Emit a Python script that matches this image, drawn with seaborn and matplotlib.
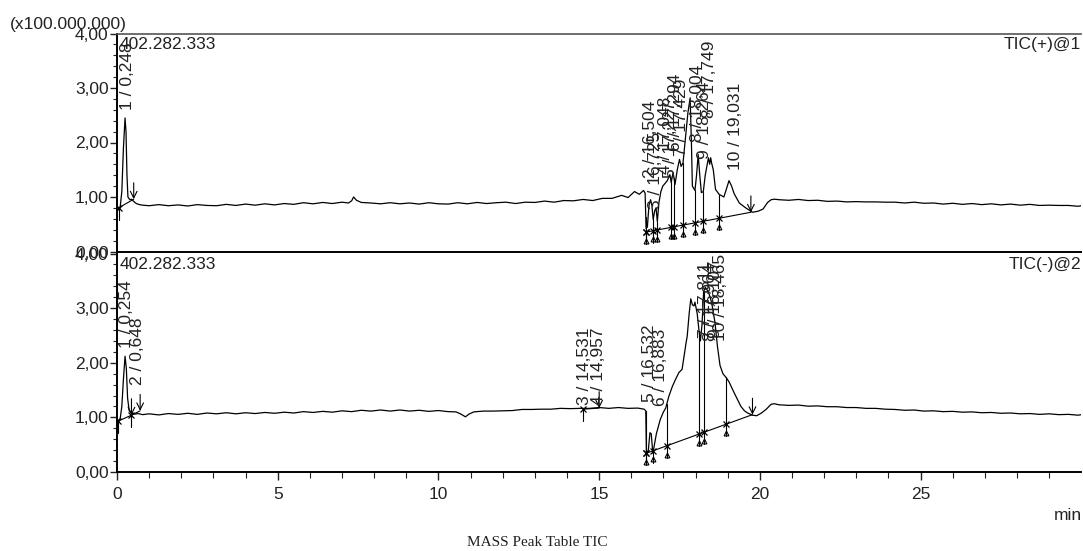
import numpy as np
import matplotlib
matplotlib.use("Agg")
import matplotlib.pyplot as plt
from matplotlib.ticker import MultipleLocator, FuncFormatter
import seaborn as sns
import pandas as pd

# ---------------- data ----------------
top_time = [0.0, 0.05, 0.1, 0.15, 0.2, 0.25, 0.28, 0.31, 0.34, 0.4, 0.45, 0.52, 0.6, 0.7, 0.8,
            1.0, 1.3, 1.6, 1.9, 2.2, 2.5, 2.8, 3.1, 3.4, 3.7, 4.0, 4.3, 4.6, 4.9, 5.2, 5.5, 5.8, 6.1,
            6.4, 6.7, 7.0, 7.2, 7.3, 7.36, 7.45, 7.6, 7.9, 8.2, 8.5, 8.8, 9.1, 9.4, 9.7, 10.0, 10.3,
            10.6, 10.9, 11.2, 11.5, 11.8, 12.1, 12.4, 12.7, 13.0, 13.3, 13.6, 13.9, 14.2, 14.5, 14.8,
            15.1, 15.4, 15.7, 15.9, 16.1, 16.25, 16.38,
            16.43, 16.46, 16.5, 16.55, 16.6, 16.64, 16.68, 16.73, 16.77, 16.81, 16.86, 16.92, 16.98,
            17.05, 17.12, 17.2, 17.24, 17.3, 17.36, 17.43, 17.5, 17.55, 17.61, 17.69, 17.76, 17.83,
            17.87, 17.9, 17.98, 18.03, 18.08, 18.13, 18.18, 18.24, 18.3, 18.37, 18.4, 18.44, 18.47,
            18.5, 18.55, 18.62, 18.73, 18.88, 18.96, 19.04, 19.12, 19.2, 19.36, 19.56, 19.77, 19.95,
            20.1, 20.24, 20.35, 20.45,
            20.6, 20.9, 21.2, 21.5, 21.8, 22.1, 22.4, 22.7, 23.0, 23.3, 23.6, 23.9, 24.2, 24.5, 24.8,
            25.1, 25.4, 25.7, 26.0, 26.3, 26.6, 26.9, 27.2, 27.5, 27.8, 28.1, 28.4, 28.7, 29.0, 29.3,
            29.6, 29.9, 30.0]
top_tic = [0.74, 0.78, 0.82, 1.1, 1.9, 2.45, 2.2, 1.4, 1.0, 0.95, 0.96, 0.92, 0.88, 0.86, 0.85,
           0.84, 0.86, 0.84, 0.855, 0.835, 0.86, 0.845, 0.84, 0.865, 0.845, 0.87, 0.85, 0.875, 0.855,
           0.88, 0.865, 0.895, 0.875, 0.9, 0.88, 0.905, 0.89, 0.93, 1.0, 0.94, 0.9, 0.89, 0.875,
           0.895, 0.875, 0.89, 0.87, 0.895, 0.875, 0.87, 0.895, 0.875, 0.9, 0.88, 0.895, 0.905, 0.88,
           0.905, 0.9, 0.925, 0.905, 0.935, 0.93, 0.955, 0.935, 0.975, 0.975, 1.03, 0.99, 1.1, 1.05, 1.12,
           1.07, 0.42, 0.45, 0.85, 0.95, 0.85, 0.59, 0.75, 0.8, 0.55, 0.9, 1.1, 1.2,
           1.25, 1.3, 1.41, 1.27, 1.45, 1.23, 1.5, 1.69, 1.56, 1.63, 2.12, 2.54, 2.82,
           2.0, 1.2, 1.12, 1.4, 1.78, 1.4, 1.08, 1.1, 1.4, 1.63, 1.72, 1.6, 1.72,
           1.62, 1.5, 1.14, 1.05, 1.0, 1.15, 1.3, 1.2, 1.06, 0.89, 0.8, 0.72, 0.74,
           0.78, 0.9, 0.95, 0.96,
           0.95, 0.94, 0.955, 0.935, 0.94, 0.92, 0.925, 0.91, 0.915, 0.91, 0.91, 0.905, 0.905, 0.89,
           0.905, 0.885, 0.89, 0.87, 0.885, 0.865, 0.88, 0.86, 0.875, 0.855, 0.87, 0.85, 0.865, 0.845,
           0.85, 0.845, 0.845, 0.83, 0.84]

bot_time = [0.0, 0.05, 0.1, 0.15, 0.2, 0.25, 0.29, 0.33, 0.38, 0.45, 0.55, 0.65, 0.8,
            1.0, 1.3, 1.6, 1.9, 2.2, 2.5, 2.8, 3.1, 3.4, 3.7, 4.0, 4.3, 4.6, 4.9, 5.2, 5.5, 5.8, 6.1,
            6.4, 6.7, 7.0, 7.3, 7.6, 7.9, 8.2, 8.5, 8.8, 9.1, 9.4, 9.7, 10.0, 10.3, 10.55, 10.7,
            10.84, 10.95, 11.1, 11.4, 11.7, 12.0, 12.3, 12.6, 12.9, 13.2, 13.5, 13.8, 14.1, 14.4,
            14.7, 15.0, 15.3, 15.6, 15.9, 16.2, 16.4,
            16.45, 16.47, 16.53, 16.58, 16.62, 16.67, 16.72, 16.78, 16.9, 17.0, 17.07, 17.17, 17.28,
            17.38, 17.48, 17.58, 17.64, 17.7, 17.74, 17.8, 17.85, 17.9, 17.95, 17.98, 18.05, 18.1,
            18.15, 18.2, 18.25, 18.3, 18.4, 18.5, 18.6, 18.68, 18.76, 18.85, 18.95, 19.04, 19.12,
            19.2, 19.3, 19.41, 19.52, 19.62, 19.77, 19.9, 20.05, 20.2, 20.35, 20.45,
            20.6, 20.9, 21.2, 21.5, 21.8, 22.1, 22.4, 22.7, 23.0, 23.3, 23.6, 23.9, 24.2, 24.5, 24.8,
            25.1, 25.4, 25.7, 26.0, 26.3, 26.6, 26.9, 27.2, 27.5, 27.8, 28.1, 28.4, 28.7, 29.0, 29.3,
            29.6, 29.9, 30.0]
bot_tic = [0.93, 0.95, 0.98, 1.2, 1.7, 2.12, 1.9, 1.35, 1.12, 1.08, 1.06, 1.07, 1.05,
           1.065, 1.045, 1.07, 1.055, 1.075, 1.055, 1.08, 1.065, 1.085, 1.065, 1.085, 1.07, 1.09, 1.075,
           1.095, 1.08, 1.105, 1.09, 1.11, 1.095, 1.12, 1.105, 1.13, 1.115, 1.135, 1.115, 1.135, 1.115,
           1.13, 1.11, 1.125, 1.105, 1.1, 1.06, 1.01, 1.06, 1.1, 1.115, 1.115, 1.12, 1.125, 1.145,
           1.145, 1.15, 1.15, 1.165, 1.16, 1.165, 1.165, 1.18, 1.165, 1.18, 1.165, 1.17, 1.15,
           1.12, 0.34, 0.4, 0.72, 0.7, 0.34, 0.5, 0.7, 0.96, 1.1, 1.17, 1.39, 1.57,
           1.7, 1.82, 1.88, 2.12, 2.35, 2.49, 2.9, 3.17, 3.06, 3.04, 3.11, 2.9, 2.62,
           2.4, 2.7, 3.3, 3.38, 3.3, 3.1, 2.75, 2.3, 1.95, 1.8, 1.73, 1.65, 1.55,
           1.45, 1.33, 1.2, 1.12, 1.08, 1.04, 1.03, 1.08, 1.15, 1.24, 1.25,
           1.23, 1.22, 1.225, 1.205, 1.21, 1.195, 1.195, 1.18, 1.18, 1.165, 1.165, 1.15, 1.145, 1.13,
           1.135, 1.115, 1.12, 1.105, 1.11, 1.095, 1.1, 1.085, 1.09, 1.075, 1.08, 1.065, 1.07, 1.055,
           1.065, 1.05, 1.055, 1.04, 1.05]

# peak labels (text, retention time)
top_labels = ["1 / 0,248", "2 / 16,504", "3 / 16,725", "4 / 17,048", "5 / 17,227", "6 / 17,294",
              "7 / 17,429", "8 / 18,004", "9 / 18,264", "8 / 17,749", "10 / 19,031"]
top_label_rt = [0.33, 16.6, 16.76, 17.05, 17.22, 17.38, 17.55, 18.07, 18.28, 18.42, 19.25]
bot_labels = ["1 / 0,254", "2 / 0,648", "3 / 14,531", "4 / 14,957", "5 / 16,532", "6 / 16,883",
              "7 / 17,811", "8 / 17,964", "9 / 18,107", "10 / 18,465"]
bot_label_rt = [0.3, 0.64, 14.53, 14.98, 16.57, 16.9, 18.3, 18.45, 18.62, 18.78]

# integration boundaries (retention times) and integration baselines
top_bounds = [16.45, 16.69, 16.81, 17.23, 17.33, 17.61, 17.98, 18.24, 18.73]
top_base = ([16.45, 19.72], [0.355, 0.72])
top_early = ([0.05, 0.52], [0.8, 0.96])
bot_bounds = [16.45, 16.69, 17.10, 18.11, 18.25, 18.94]
bot_base = ([16.45, 19.77], [0.34, 1.05])
bot_early = ([0.03, 0.45], [0.93, 1.04])
bot_early2 = ([0.45, 0.72], [1.04, 1.12])
bot_mid = ([14.5, 15.0], [1.15, 1.17])

# ---------------- layout ----------------
top_label_y = [2.6, 1.35, 0.78, 1.42, 1.35, 1.85, 1.75, 2.0, 1.7, 2.45, 1.5]
bot_label_y = [2.27, 1.6, 1.22, 1.22, 1.28, 1.2, 2.45, 2.4, 2.45, 2.4]

sns.set_theme(style="white")
plt.rcParams['font.family'] = ['Liberation Sans', 'DejaVu Sans']
FS = 12.5

fig = plt.figure(figsize=(10.83, 5.51), dpi=100)
W, H = 1083, 551
left, right = 117 / W, 1081 / W
ax_top = fig.add_axes([left, 1 - 251.5 / H, right - left, 218 / H])
ax_bot = fig.add_axes([left, 1 - 472 / H, right - left, 218.5 / H])

fmt = FuncFormatter(lambda v, p: f"{v:.2f}".replace('.', ','))


def draw(ax, t, v, labels, label_rt, label_y, bounds, base, extra_bases, id_text):
    df = pd.DataFrame({"t": t, "v": v})
    sns.lineplot(data=df, x="t", y="v", ax=ax, color="black", lw=0.9,
                 estimator=None, sort=False)
    ax.set_xlim(0, 29.99)
    ax.set_ylim(0, 4)
    ax.set_xlabel("")
    ax.set_ylabel("")
    for bx, by in [base] + extra_bases:
        ax.plot(bx, by, color="black", lw=0.8)
    for b in bounds:
        bv = np.interp(b, base[0], base[1])
        tv = np.interp(b, t, v)
        ax.plot([b, b], [bv - 0.22, tv], color="black", lw=0.8)
        ax.plot([b], [bv], marker="x", ms=5, color="black", mew=0.9)
        ax.plot([b], [bv - 0.16], marker="^", ms=3.5, color="black", mfc="none", mew=0.8)
    for bx, by in [base] + extra_bases:
        ax.plot([bx[0]], [by[0]], marker="x", ms=5, color="black", mew=0.9)
        ax.plot([bx[0], bx[0]], [by[0] - 0.22, by[0]], color="black", lw=0.8)
        ax.annotate("", xy=(bx[1], by[1]), xytext=(bx[1], by[1] + 0.3),
                    arrowprops=dict(arrowstyle="->", color="black", lw=0.8, shrinkA=0, shrinkB=0))
    for lab, rt, ly in zip(labels, label_rt, label_y):
        ax.text(rt, ly, lab, rotation=90, ha="center", va="bottom", fontsize=FS,
                color="#222222", clip_on=False)
    ax.text(0.003, 0.985, "402.282.333", transform=ax.transAxes, ha="left", va="top",
            fontsize=FS, color="#222222")
    ax.text(1.0, 0.985, id_text, transform=ax.transAxes, ha="right", va="top",
            fontsize=FS, color="#222222")
    ax.yaxis.set_major_locator(MultipleLocator(1))
    ax.yaxis.set_minor_locator(MultipleLocator(0.2))
    ax.yaxis.set_major_formatter(fmt)
    ax.xaxis.set_major_locator(MultipleLocator(5))
    ax.xaxis.set_minor_locator(MultipleLocator(1))
    ax.tick_params(axis="y", which="major", left=True, length=5, width=1, labelsize=FS,
                   colors="#222222", pad=1)
    ax.tick_params(axis="y", which="minor", left=True, length=3, width=0.8, colors="#222222")
    for s in ["left", "bottom"]:
        ax.spines[s].set_color("black")
        ax.spines[s].set_linewidth(1.4)
    ax.spines["top"].set_color("#555555")
    ax.spines["top"].set_linewidth(1.2)
    ax.spines["right"].set_visible(False)
    ax.grid(False)
    ax.set_facecolor("white")


draw(ax_top, top_time, top_tic, top_labels, top_label_rt, top_label_y, top_bounds,
     top_base, [top_early], "TIC(+)@1")
draw(ax_bot, bot_time, bot_tic, bot_labels, bot_label_rt, bot_label_y, bot_bounds,
     bot_base, [bot_early, bot_early2, bot_mid], "TIC(-)@2")

ax_top.tick_params(axis="x", which="both", bottom=False, labelbottom=False)
ax_bot.tick_params(axis="x", which="major", bottom=True, length=6, width=1, labelsize=FS,
                   colors="#222222", pad=5)
ax_bot.tick_params(axis="x", which="minor", bottom=True, length=4, width=0.8, colors="#222222")
ax_bot.spines["top"].set_visible(False)

fig.text(10 / W, 1 - 24 / H, "(x100.000.000)", ha="left", va="center", fontsize=FS,
         color="#222222")
fig.text(1068 / W, 1 - 516 / H, "min", ha="center", va="center", fontsize=FS, color="#222222")
fig.text(537 / W, 1 - 543 / H, "MASS Peak Table TIC", ha="center", va="center", fontsize=11,
         family=["Liberation Serif", "DejaVu Serif"], color="#222222")

fig.savefig("out.png", dpi=100, facecolor="white")
